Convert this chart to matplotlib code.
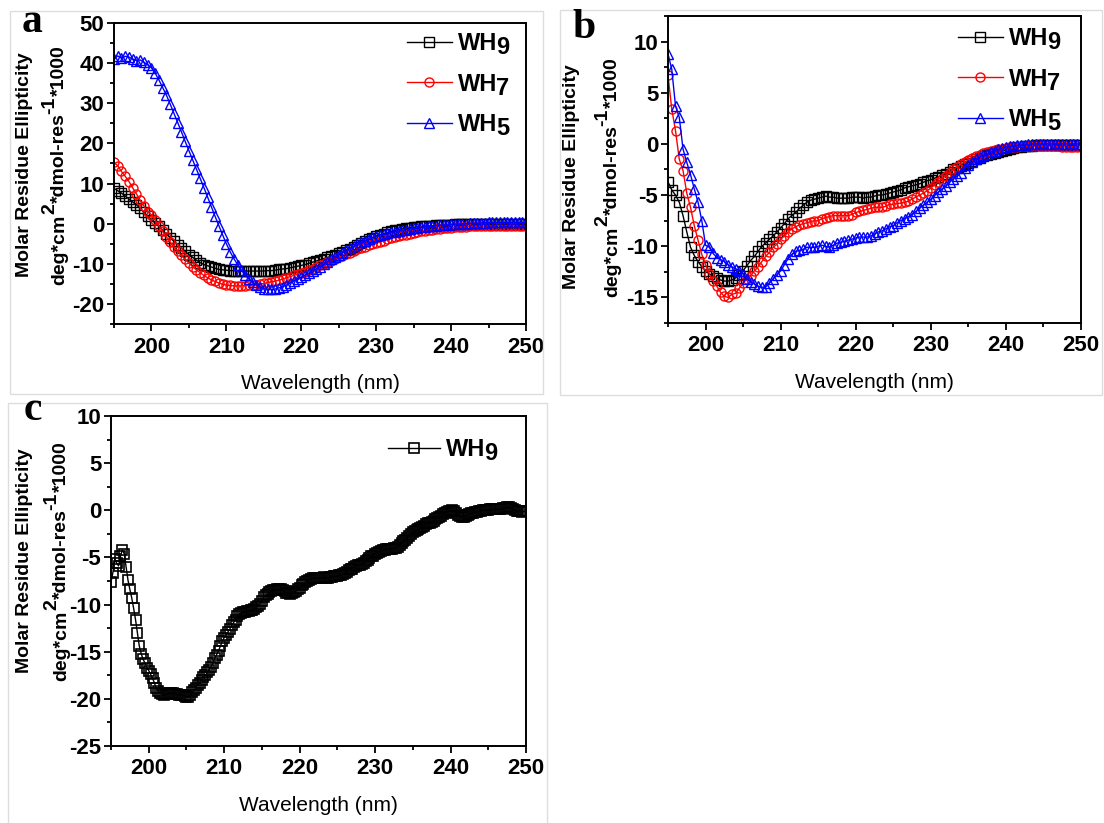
import numpy as np
import matplotlib
matplotlib.use("Agg")
import matplotlib.pyplot as plt
from matplotlib.patches import Rectangle
from matplotlib.ticker import MultipleLocator

plt.rcParams['font.family'] = ['Liberation Sans', 'DejaVu Sans']
plt.rcParams['font.weight'] = 'bold'
plt.rcParams['axes.unicode_minus'] = False

# ---- data ----
wl_ab = np.arange(195, 250.01, 0.5)
wl_c = np.arange(195, 250.01, 0.25)

a_wh9 = [8.8, 8.2, 7.6, 6.9, 6.1, 5.4, 4.7, 3.8, 2.8, 1.9,
         1.0, 0.1, -0.7, -1.7, -2.6, -3.5, -4.4, -5.2, -6.0, -6.9,
         -7.7, -8.4, -9.1, -9.7, -10.2, -10.5, -10.8, -11.1, -11.4, -11.5,
         -11.6, -11.7, -11.7, -11.8, -11.8, -11.8, -11.8, -11.8, -11.8, -11.8,
         -11.8, -11.7, -11.7, -11.6, -11.4, -11.3, -11.2, -11.0, -10.8, -10.6,
         -10.4, -10.2, -9.9, -9.6, -9.3, -9.0, -8.7, -8.4, -8.1, -7.8,
         -7.4, -7.0, -6.6, -6.2, -5.7, -5.2, -4.8, -4.3, -3.9, -3.5,
         -3.1, -2.8, -2.5, -2.2, -1.9, -1.7, -1.5, -1.3, -1.1, -1.0,
         -0.9, -0.8, -0.7, -0.6, -0.5, -0.5, -0.4, -0.4, -0.3, -0.3,
         -0.3, -0.2, -0.2, -0.2, -0.2, -0.1, -0.1, -0.1, -0.1, -0.1,
         -0.1, -0.1, -0.1, -0.1, -0.1, -0.1, -0.1, -0.1, -0.1, -0.1,
         -0.1]
a_wh7 = [15.3, 14.4, 13.0, 11.8, 10.5, 8.9, 7.4, 5.8, 4.4, 3.0,
         2.2, 0.9, -0.5, -1.9, -3.3, -4.6, -5.8, -6.9, -7.9, -8.9,
         -9.8, -10.7, -11.5, -12.2, -12.9, -13.5, -14.0, -14.4, -14.8, -15.1,
         -15.3, -15.4, -15.5, -15.5, -15.5, -15.5, -15.4, -15.3, -15.2, -15.1,
         -14.9, -14.7, -14.5, -14.3, -14.1, -13.8, -13.5, -13.2, -12.9, -12.6,
         -12.3, -12.0, -11.6, -11.2, -10.8, -10.4, -10.0, -9.6, -9.2, -8.8,
         -8.4, -8.0, -7.6, -7.2, -6.8, -6.4, -6.1, -5.7, -5.4, -5.1,
         -4.8, -4.5, -4.2, -3.9, -3.6, -3.3, -3.1, -2.9, -2.7, -2.5,
         -2.3, -2.1, -1.9, -1.8, -1.6, -1.5, -1.4, -1.3, -1.2, -1.1,
         -1.0, -0.9, -0.9, -0.8, -0.8, -0.7, -0.7, -0.7, -0.6, -0.6,
         -0.6, -0.6, -0.5, -0.5, -0.5, -0.5, -0.5, -0.5, -0.5, -0.5,
         -0.5]
a_wh5 = [41.0, 41.8, 41.2, 41.7, 41.5, 41.0, 40.6, 40.8, 40.2, 39.6,
         38.8, 37.5, 35.8, 33.9, 32.0, 29.8, 27.5, 25.2, 22.9, 20.5,
         18.2, 15.9, 13.6, 11.3, 9.0, 6.6, 4.2, 1.8, -0.5, -2.8,
         -5.0, -7.0, -8.7, -10.2, -11.6, -12.8, -13.8, -14.6, -15.3, -15.8,
         -16.2, -16.4, -16.4, -16.3, -16.0, -15.7, -15.3, -14.8, -14.3, -13.8,
         -13.3, -12.8, -12.3, -11.8, -11.3, -10.7, -10.1, -9.5, -8.9, -8.3,
         -7.7, -7.2, -6.6, -6.1, -5.6, -5.1, -4.6, -4.2, -3.8, -3.4,
         -3.0, -2.8, -2.6, -2.4, -2.2, -2.0, -1.8, -1.6, -1.5, -1.3,
         -1.2, -1.1, -0.9, -0.8, -0.7, -0.6, -0.5, -0.4, -0.3, -0.3,
         -0.2, -0.1, -0.1, 0.0, 0.0, 0.1, 0.1, 0.1, 0.2, 0.2,
         0.3, 0.3, 0.3, 0.3, 0.3, 0.3, 0.3, 0.3, 0.3, 0.3,
         0.3]

b_wh9 = [-3.7, -4.5, -5.0, -5.7, -7.0, -8.6, -10.1, -10.9, -11.5, -12.0,
         -12.4, -12.7, -12.9, -13.1, -13.3, -13.4, -13.4, -13.3, -13.1, -12.8,
         -12.4, -11.9, -11.4, -11.0, -10.5, -10.0, -9.7, -9.3, -9.0, -8.6,
         -8.2, -7.8, -7.3, -7.0, -6.7, -6.3, -6.0, -5.7, -5.5, -5.4,
         -5.3, -5.2, -5.1, -5.2, -5.2, -5.3, -5.3, -5.3, -5.3, -5.2,
         -5.2, -5.2, -5.3, -5.2, -5.2, -5.1, -5.0, -5.0, -4.9, -4.8,
         -4.7, -4.6, -4.5, -4.3, -4.2, -4.1, -4.0, -3.9, -3.75, -3.6,
         -3.5, -3.35, -3.2, -3.05, -2.9, -2.7, -2.5, -2.35, -2.2, -2.0,
         -1.85, -1.7, -1.5, -1.35, -1.2, -1.1, -1.0, -0.85, -0.75, -0.65,
         -0.6, -0.5, -0.4, -0.35, -0.3, -0.25, -0.2, -0.2, -0.15, -0.1,
         -0.1, -0.1, -0.1, -0.1, -0.1, -0.1, -0.1, -0.1, -0.1, -0.1,
         -0.1]
b_wh7 = [6.7, 3.4, 1.3, -1.5, -2.6, -4.8, -6.2, -8.0, -9.4, -10.8,
         -11.8, -12.7, -13.4, -13.9, -14.5, -14.9, -15.0, -14.7, -14.6, -14.1,
         -13.6, -13.2, -12.9, -12.4, -12.0, -11.5, -11.0, -10.6, -10.1, -9.8,
         -9.3, -9.0, -8.6, -8.3, -8.1, -7.9, -7.8, -7.7, -7.6, -7.5,
         -7.5, -7.3, -7.2, -7.1, -7.0, -7.0, -7.0, -7.0, -7.0, -6.9,
         -6.7, -6.6, -6.5, -6.4, -6.3, -6.2, -6.2, -6.2, -6.1, -5.9,
         -5.9, -5.8, -5.8, -5.7, -5.6, -5.4, -5.2, -5.0, -4.8, -4.6,
         -4.3, -4.0, -3.7, -3.4, -3.1, -2.8, -2.5, -2.25, -2.0, -1.8,
         -1.6, -1.4, -1.2, -1.05, -0.9, -0.8, -0.7, -0.6, -0.5, -0.45,
         -0.4, -0.35, -0.3, -0.3, -0.25, -0.2, -0.2, -0.2, -0.2, -0.2,
         -0.2, -0.2, -0.2, -0.25, -0.25, -0.3, -0.3, -0.3, -0.3, -0.3,
         -0.3]
b_wh5 = [8.8, 7.3, 3.7, 2.6, -0.5, -1.8, -3.0, -4.4, -5.7, -7.5,
         -9.9, -10.1, -10.7, -11.1, -11.3, -11.5, -11.8, -12.0, -12.2, -12.4,
         -12.7, -13.2, -13.5, -13.7, -13.9, -14.0, -14.0, -13.6, -13.2, -12.8,
         -12.4, -11.8, -11.2, -10.8, -10.5, -10.4, -10.3, -10.1, -10.1, -10.1,
         -10.0, -9.9, -10.0, -10.1, -9.9, -9.7, -9.6, -9.5, -9.4, -9.3,
         -9.2, -9.1, -9.1, -9.1, -9.0, -8.8, -8.6, -8.5, -8.3, -8.1,
         -8.0, -7.7, -7.5, -7.3, -7.1, -6.9, -6.6, -6.3, -6.0, -5.7,
         -5.4, -5.05, -4.7, -4.4, -4.1, -3.75, -3.4, -3.1, -2.8, -2.4,
         -2.1, -1.8, -1.5, -1.3, -1.1, -1.0, -0.8, -0.65, -0.5, -0.4,
         -0.3, -0.25, -0.2, -0.15, -0.1, -0.1, -0.05, 0.0, 0.0, 0.0,
         0.0, 0.0, 0.0, 0.0, 0.0, 0.0, 0.0, 0.0, 0.0, 0.0,
         0.0]

c_wh9 = [-7.6, -6.6, -5.2, -5.6, -5.9, -4.9, -4.2, -4.6, -6.0, -7.4,
         -8.4, -9.3, -10.4, -11.6, -13.0, -14.4, -15.2, -15.8, -16.2, -16.7,
         -17.0, -17.4, -17.8, -18.3, -18.9, -19.2, -19.4, -19.5, -19.6, -19.5,
         -19.5, -19.4, -19.4, -19.4, -19.5, -19.5, -19.6, -19.6, -19.6, -19.7,
         -19.8, -19.8, -19.6, -19.3, -19.1, -18.8, -18.5, -18.3, -18.0, -17.7,
         -17.5, -17.2, -16.9, -16.6, -16.2, -15.7, -15.3, -14.9, -14.4, -13.9,
         -13.5, -13.2, -12.9, -12.6, -12.2, -11.9, -11.6, -11.2, -11.0, -10.9,
         -10.8, -10.8, -10.7, -10.7, -10.6, -10.6, -10.5, -10.3, -10.1, -9.9,
         -9.6, -9.2, -9.0, -8.9, -8.7, -8.6, -8.5, -8.5, -8.4, -8.4,
         -8.4, -8.5, -8.6, -8.8, -8.8, -8.9, -8.8, -8.7, -8.6, -8.4,
         -8.2, -7.9, -7.8, -7.6, -7.5, -7.4, -7.3, -7.2, -7.2, -7.2,
         -7.2, -7.2, -7.2, -7.1, -7.2, -7.2, -7.1, -7.1, -7.0, -7.0,
         -7.0, -6.9, -6.9, -6.8, -6.7, -6.5, -6.3, -6.2, -6.2, -6.0,
         -5.9, -5.8, -5.8, -5.7, -5.6, -5.4, -5.3, -5.1, -4.9, -4.8,
         -4.6, -4.5, -4.4, -4.3, -4.2, -4.2, -4.1, -4.1, -4.1, -4.1,
         -4.0, -4.0, -3.9, -3.7, -3.5, -3.3, -3.1, -2.9, -2.7, -2.5,
         -2.3, -2.2, -2.1, -2.0, -1.9, -1.8, -1.7, -1.5, -1.4, -1.3,
         -1.2, -1.1, -0.9, -0.8, -0.7, -0.6, -0.4, -0.3, -0.2, -0.1,
         -0.1, 0.0, -0.1, -0.3, -0.5, -0.6, -0.7, -0.7, -0.6, -0.5,
         -0.4, -0.3, -0.3, -0.2, -0.2, -0.1, -0.1, 0.0, 0.0, 0.0,
         0.0, 0.1, 0.1, 0.1, 0.1, 0.1, 0.1, 0.1, 0.2, 0.2,
         0.3, 0.3, 0.2, 0.1, 0.0, -0.1, -0.1, -0.1, -0.2, -0.1,
         -0.1]

names = ["WH", "WH", "WH"]
subs = ["9", "7", "5"]
colors = ["black", "red", "blue"]
markers = ["s", "o", "^"]

W, H = 1104, 823
fig = plt.figure(figsize=(W / 100, H / 100), dpi=100)
renderer = fig.canvas.get_renderer()


def px_axes(l, t, r, b):
    return fig.add_axes([l / W, 1 - b / H, (r - l) / W, (b - t) / H])


def style(ax, ylim, ymaj, ymin):
    ax.set_xlim(195, 250)
    ax.set_ylim(*ylim)
    ax.xaxis.set_major_locator(MultipleLocator(10))
    ax.xaxis.set_minor_locator(MultipleLocator(5))
    ax.yaxis.set_major_locator(MultipleLocator(ymaj))
    ax.yaxis.set_minor_locator(MultipleLocator(ymin))
    ax.tick_params(which='both', direction='out', top=False, right=False,
                   width=1.3, labelsize=16)
    ax.tick_params(axis='x', pad=4)
    ax.tick_params(axis='y', pad=2)
    ax.tick_params(which='major', length=5)
    ax.tick_params(which='minor', length=3)
    for s in ax.spines.values():
        s.set_linewidth(1.4)
    ax.set_xlabel("Wavelength (nm)", fontsize=15, labelpad=12)


def rot_text(xbase, ymid, pieces, fs=14):
    # vertical text reading upwards, built from pieces with raised parts
    ts = [fig.text(0, 0, s, rotation=90, rotation_mode='anchor', ha='left',
                   va='baseline', fontsize=fs) for s, _ in pieces]
    lens = [t.get_window_extent(renderer).height for t in ts]
    y = (H - ymid) - sum(lens) / 2
    for t, (s, up), L in zip(ts, pieces, lens):
        t.set_position(((xbase - up) / W, y / H))
        y += L


def ylab(xa, xb, yc):
    rot_text(xa, yc, [("Molar Residue Ellipticity", 0)])
    rot_text(xb, yc, [("deg*cm", 0), ("2", 10), ("*dmol-res", 0),
                      ("-1", 10), ("*1000", 0)])


def legend(ax, x, y, hl, fs=17, ls=0.75):
    leg = ax.legend(names[:len(ax.get_lines())], loc='upper left',
                    bbox_to_anchor=(x / W, 1 - y / H),
                    bbox_transform=fig.transFigure, frameon=False,
                    fontsize=fs, handlelength=hl, handletextpad=0.25,
                    labelspacing=ls, borderpad=0, borderaxespad=0)
    fig.canvas.draw()
    for t, d in zip(leg.get_texts(), subs):
        bb = t.get_window_extent(renderer)
        fig.text((bb.x1 - 1) / W, (bb.y0 + 1) / H, d, ha='left',
                 va='baseline', fontsize=fs)


# panel frames
for (l, t, r, b) in [(10, 11, 543, 394), (560, 10, 1102, 395), (8, 403, 547, 830)]:
    fig.add_artist(Rectangle((l / W, 1 - b / H), (r - l) / W, (b - t) / H,
                             transform=fig.transFigure, fill=False,
                             edgecolor='#dddddd', lw=1))

# panel a
ax_a = px_axes(114, 23, 526, 324)
for y, c, m in zip([a_wh9, a_wh7, a_wh5], colors, markers):
    ax_a.plot(wl_ab, y, color=c, marker=m, mfc='none', ms=6.5, mew=1,
              lw=1)
style(ax_a, (-25, 50), 10, 5)
legend(ax_a, 407, 32, 1.9)
ylab(29, 64, 165)

# panel b
ax_b = px_axes(668, 16, 1081, 323)
for y, c, m in zip([b_wh9, b_wh7, b_wh5], colors, markers):
    ax_b.plot(wl_ab, y, color=c, marker=m, mfc='none', ms=6.5, mew=1,
              lw=1)
style(ax_b, (-17.5, 12.5), 5, 2.5)
legend(ax_b, 958, 27, 1.9)
ylab(576, 617, 177)

# panel c
ax_c = px_axes(111, 416, 526, 746)
ax_c.plot(wl_c, c_wh9, color='black', marker='s', mfc='none', ms=7,
          mew=1.2, lw=1)
style(ax_c, (-25, 10), 5, 2.5)
legend(ax_c, 388, 438, 2.2)
ylab(29, 66, 561)

# panel letters
for txt, x, y in [("a", 32, 22), ("b", 584, 28), ("c", 33, 410)]:
    fig.text(x / W, 1 - y / H, txt, ha='center', va='center', fontsize=30,
             fontweight='bold', family='Liberation Serif')

fig.savefig("out.png", dpi=100)
